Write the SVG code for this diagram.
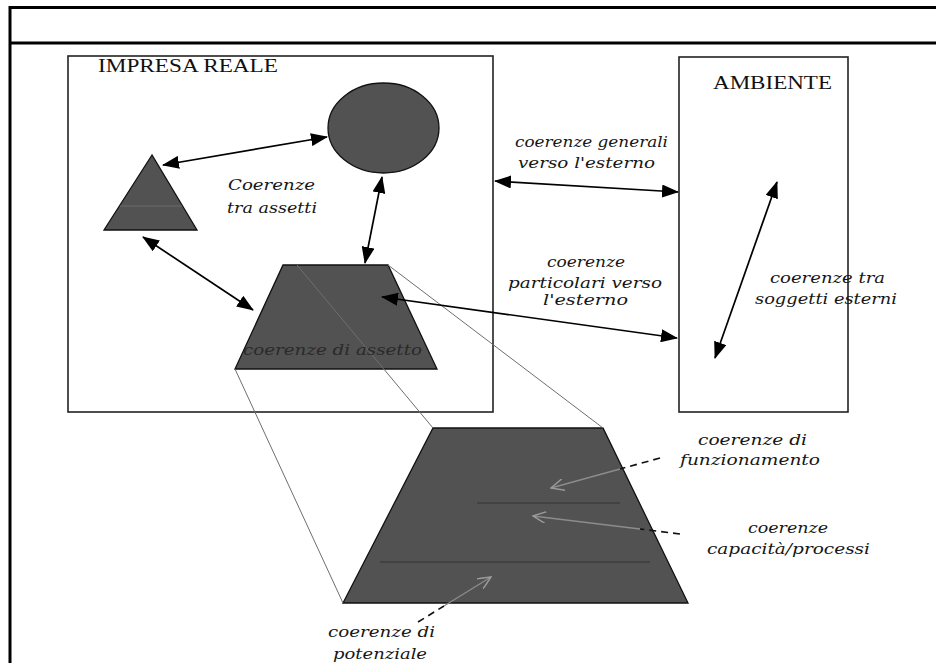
<svg xmlns="http://www.w3.org/2000/svg" width="936" height="663" viewBox="0 0 936 663">
<style>
.frame{fill:none;stroke:#000;stroke-width:3}
.box{fill:none;stroke:#222;stroke-width:1.6}
.shape{fill:#525252;stroke:#111;stroke-width:1.3}
.proj{fill:none;stroke:#6e6e6e;stroke-width:1}
.arrow{fill:none;stroke:#000;stroke-width:1.7;marker-start:url(#ah);marker-end:url(#ah)}
.dash{fill:none;stroke:#111;stroke-width:1.6;stroke-dasharray:7 5}
.dashin{fill:none;stroke:#8c8c8c;stroke-width:1.3;marker-end:url(#oh)}
.band{stroke:#333;stroke-width:1;fill:none}
.cap{font-family:"Liberation Serif","Times New Roman",serif;font-size:18px;fill:#111}
.lab{font-family:"DejaVu Serif","Liberation Serif",serif;font-style:italic;font-size:15px;fill:#161616}
.inl{font-family:"DejaVu Serif","Liberation Serif",serif;font-style:italic;font-size:15px;fill:#2a2a2a}
</style>
<defs>
<marker id="ah" markerUnits="userSpaceOnUse" markerWidth="17" markerHeight="13" refX="16" refY="6.5" orient="auto-start-reverse" viewBox="0 0 17 13">
<path d="M0,0 L17,6.5 L0,13 z" fill="#000"/>
</marker>
<marker id="oh" markerUnits="userSpaceOnUse" markerWidth="14" markerHeight="12" refX="13" refY="6" orient="auto" viewBox="0 0 14 12">
<path d="M0,0 L13,6 L0,12" fill="none" stroke="#9a9a9a" stroke-width="1.5"/>
</marker>
</defs>
<rect width="936" height="663" fill="#fff"/>
<g id="frame">
<path class="frame" d="M10,665 V7.5 H940 M10,43 H940"/>
</g>
<g id="impresa">
<rect class="box" x="68" y="56" width="425" height="356"/>
<text class="cap" x="98" y="72" textLength="180" lengthAdjust="spacingAndGlyphs">IMPRESA REALE</text>
</g>
<g id="ambiente">
<rect class="box" x="679" y="57" width="169" height="355"/>
<text class="cap" x="713" y="89" textLength="119" lengthAdjust="spacingAndGlyphs">AMBIENTE</text>
</g>
<g id="cerchio">
<ellipse class="shape" cx="383.5" cy="128" rx="55.5" ry="45"/>
</g>
<g id="triangolo">
<polygon class="shape" points="152,155 104,230 197,230"/>
<line x1="120" y1="206" x2="182" y2="206" stroke="#6a6a6a" stroke-width="1"/>
</g>
<g id="assetto">
<polygon class="shape" points="283,265 388,265 437,369 235,369"/>
</g>
<g id="assetto-esploso">
<polygon class="shape" points="433,428 603,428 688,603 343,603"/>
<line class="band" x1="477" y1="503" x2="620" y2="503"/>
<line class="band" x1="380" y1="562" x2="650" y2="562"/>
</g>
<g id="projections">
<path class="proj" d="M235,369 L343,603 M297,265 L433,428 M388,265 L603,428"/>
</g>
<g id="assetto-label">
<text class="inl" x="243" y="355" textLength="179" lengthAdjust="spacingAndGlyphs">coerenze di assetto</text>
</g>
<g id="connectors">
<line class="arrow" x1="163" y1="165" x2="327" y2="137"/>
<line class="arrow" x1="382" y1="177" x2="365" y2="263"/>
<line class="arrow" x1="143" y1="237" x2="253" y2="310"/>
<line class="arrow" x1="382" y1="297" x2="677" y2="338"/>
<line class="arrow" x1="495" y1="181" x2="678" y2="192"/>
<line class="arrow" x1="777" y1="182" x2="715" y2="358"/>
<path class="dash" d="M660,458 L620,469"/>
<path class="dashin" d="M620,469 L551,488"/>
<path class="dash" d="M680,534 L640,529"/>
<path class="dashin" d="M640,529 L533,516"/>
<path class="dash" d="M418,622 L444,606"/>
<path class="dashin" d="M444,606 L491,577"/>
</g>
<g id="labels">
<text class="lab" x="228" y="190" font-size="16" textLength="87" lengthAdjust="spacingAndGlyphs">Coerenze</text>
<text class="lab" x="227" y="213" font-size="16" textLength="90" lengthAdjust="spacingAndGlyphs">tra assetti</text>
<text class="lab" x="515" y="147" textLength="153" lengthAdjust="spacingAndGlyphs">coerenze generali</text>
<text class="lab" x="518" y="168" textLength="137" lengthAdjust="spacingAndGlyphs">verso l'esterno</text>
<text class="lab" x="547" y="267" textLength="78" lengthAdjust="spacingAndGlyphs">coerenze</text>
<text class="lab" x="508" y="288" textLength="154" lengthAdjust="spacingAndGlyphs">particolari verso</text>
<text class="lab" x="543" y="305" textLength="85" lengthAdjust="spacingAndGlyphs">l'esterno</text>
<text class="lab" x="770" y="283" textLength="115" lengthAdjust="spacingAndGlyphs">coerenze tra</text>
<text class="lab" x="755" y="304" textLength="142" lengthAdjust="spacingAndGlyphs">soggetti esterni</text>
<text class="lab" x="698" y="445" textLength="109" lengthAdjust="spacingAndGlyphs">coerenze di</text>
<text class="lab" x="680" y="465" textLength="140" lengthAdjust="spacingAndGlyphs">funzionamento</text>
<text class="lab" x="748" y="533" textLength="80" lengthAdjust="spacingAndGlyphs">coerenze</text>
<text class="lab" x="707" y="554" textLength="163" lengthAdjust="spacingAndGlyphs">capacità/processi</text>
<text class="lab" x="328" y="637" textLength="107" lengthAdjust="spacingAndGlyphs">coerenze di</text>
<text class="lab" x="333" y="659" textLength="94" lengthAdjust="spacingAndGlyphs">potenziale</text>
</g>
</svg>
